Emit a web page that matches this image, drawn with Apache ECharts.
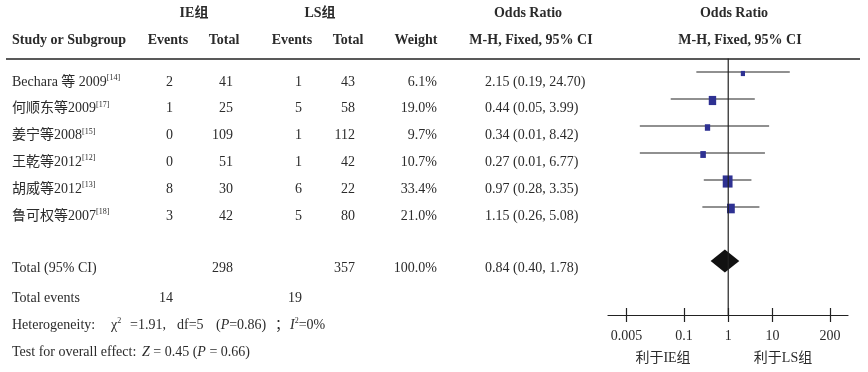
<!DOCTYPE html>
<html><head><meta charset="utf-8">
<script src="https://cdn.jsdelivr.net/npm/echarts@6/dist/echarts.min.js"></script>
<style>html,body{margin:0;padding:0;background:#fff}#c{width:868px;height:372px}</style>
</head><body><div id="c"></div>
<script>
const studies = ['Bechara 等 2009', '何顺东等2009', '姜宁等2008', '王乾等2012', '胡威等2012', '鲁可权等2007'];
const refs = ['14', '17', '15', '12', '13', '18'];
const ieEvents = [2, 1, 0, 0, 8, 3];
const ieTotal = [41, 25, 109, 51, 30, 42];
const lsEvents = [1, 5, 1, 1, 6, 5];
const lsTotal = [43, 58, 112, 42, 22, 80];
const weights = [6.1, 19.0, 9.7, 10.7, 33.4, 21.0];
const orValues = [2.15, 0.44, 0.34, 0.27, 0.97, 1.15];
const ciLow = [0.19, 0.05, 0.01, 0.01, 0.28, 0.26];
const ciHigh = [24.70, 3.99, 8.42, 6.77, 3.35, 5.08];
const pooled = { total1: 298, total2: 357, weight: 100.0, or: 0.84, lo: 0.40, hi: 1.78, events1: 14, events2: 19 };
const axisTicks = [0.005, 0.1, 1, 10, 200];
const tickLabels = ['0.005', '0.1', '1', '10', '200'];

const FF = '"Liberation Serif", "Noto Sans CJK SC", serif';
const COL = '#2b2b2b';
const lg = v => Math.log10(v);

function txt(text, x, y, align, opt) {
  opt = opt || {};
  return {
    type: 'text', silent: true,
    style: Object.assign({
      text: text, x: x, y: y, align: align || 'left', verticalAlign: 'middle',
      fontFamily: FF, fontSize: 14, fill: COL, lineHeight: 16,
      rich: {
        sup: { fontFamily: FF, fontSize: 8, lineHeight: 8, verticalAlign: 'top', fill: COL },
        it: { fontFamily: FF, fontSize: 14, fontStyle: 'italic', fill: COL }
      }
    }, opt)
  };
}
const B = { fontWeight: 'bold' };

const g = [];
g.push(txt('IE组', 194, 13, 'center', B));
g.push(txt('LS组', 320, 13, 'center', B));
g.push(txt('Odds Ratio', 528, 13, 'center', B));
g.push(txt('Odds Ratio', 734, 13, 'center', B));
g.push(txt('Study or Subgroup', 12, 40, 'left', B));
g.push(txt('Events', 168, 40, 'center', B));
g.push(txt('Total', 224, 40, 'center', B));
g.push(txt('Events', 292, 40, 'center', B));
g.push(txt('Total', 348, 40, 'center', B));
g.push(txt('Weight', 416, 40, 'center', B));
g.push(txt('M-H, Fixed, 95% CI', 531, 40, 'center', B));
g.push(txt('M-H, Fixed, 95% CI', 740, 40, 'center', B));
g.push({ type: 'line', silent: true, shape: { x1: 6, y1: 59, x2: 860, y2: 59 }, style: { stroke: '#222', lineWidth: 1.5 } });

const f2 = v => v.toFixed(2);
studies.forEach((s, i) => {
  const y = 82 + i * 26.8;
  g.push(txt(s + '{sup|[' + refs[i] + ']}', 12, y, 'left'));
  g.push(txt(String(ieEvents[i]), 173, y, 'right'));
  g.push(txt(String(ieTotal[i]), 233, y, 'right'));
  g.push(txt(String(lsEvents[i]), 302, y, 'right'));
  g.push(txt(String(lsTotal[i]), 355, y, 'right'));
  g.push(txt(weights[i].toFixed(1) + '%', 437, y, 'right'));
  g.push(txt(f2(orValues[i]) + ' (' + f2(ciLow[i]) + ', ' + f2(ciHigh[i]) + ')', 485, y, 'left'));
});
g.push(txt('Total (95% CI)', 12, 268, 'left'));
g.push(txt(String(pooled.total1), 233, 268, 'right'));
g.push(txt(String(pooled.total2), 355, 268, 'right'));
g.push(txt(pooled.weight.toFixed(1) + '%', 437, 268, 'right'));
g.push(txt(f2(pooled.or) + ' (' + f2(pooled.lo) + ', ' + f2(pooled.hi) + ')', 485, 268, 'left'));
g.push(txt('Total events', 12, 298, 'left'));
g.push(txt(String(pooled.events1), 173, 298, 'right'));
g.push(txt(String(pooled.events2), 302, 298, 'right'));
g.push(txt('Heterogeneity:', 12, 325, 'left'));
g.push(txt('χ{sup|2}', 111, 325, 'left'));
g.push(txt('=1.91,', 130, 325, 'left'));
g.push(txt('df=5', 177, 325, 'left'));
g.push(txt('({it|P}=0.86)', 216, 325, 'left'));
g.push(txt('；', 275, 325, 'left'));
g.push(txt('{it|I}{sup|2}=0%', 290, 325, 'left'));
g.push(txt('Test for overall effect:', 12, 352, 'left'));
g.push(txt('{it|Z} = 0.45 ({it|P} = 0.66)', 142, 352, 'left'));
g.push(txt('利于IE组', 663, 358, 'center'));
g.push(txt('利于LS组', 783, 358, 'center'));

const gridBox = { left: 608, right: 20, top: 58.5, bottom: 57 };
const xBase = { type: 'value', min: -2.72, max: 2.71, splitLine: { show: false }, position: 'bottom' };
const tickVals = axisTicks.map(lg);
const chart = echarts.init(document.getElementById('c'), null, { renderer: 'canvas' });
chart.setOption({
  animation: false,
  backgroundColor: '#fff',
  grid: [Object.assign({}, gridBox), Object.assign({}, gridBox)],
  xAxis: [
    Object.assign({}, xBase, {
      gridIndex: 0,
      axisLine: { show: true, onZero: false, lineStyle: { color: '#222', width: 1.2 } },
      axisTick: { show: true, inside: false, length: 7, customValues: tickVals, lineStyle: { color: '#222', width: 1.2 } },
      axisLabel: {
        show: true, margin: 14, customValues: tickVals, fontFamily: FF, fontSize: 14, color: COL,
        formatter: v => { let k = 0, d = 1e9; tickVals.forEach((t, j) => { if (Math.abs(t - v) < d) { d = Math.abs(t - v); k = j; } }); return tickLabels[k]; }
      }
    }),
    Object.assign({}, xBase, {
      gridIndex: 1,
      axisLine: { show: false, onZero: false },
      axisTick: { show: true, inside: true, length: 7, customValues: tickVals, lineStyle: { color: '#222', width: 1.2 } },
      axisLabel: { show: false }
    })
  ],
  yAxis: [
    { type: 'value', gridIndex: 0, inverse: true, min: -0.5, max: 9, show: false },
    { type: 'value', gridIndex: 1, inverse: true, min: -0.5, max: 9, show: false }
  ],
  graphic: g,
  series: [
    {
      type: 'line', xAxisIndex: 0, yAxisIndex: 0, symbol: 'none', silent: true,
      lineStyle: { color: '#222', width: 1.2 },
      data: [[0, -0.5], [0, 9]]
    },
    {
      type: 'custom', xAxisIndex: 0, yAxisIndex: 0, silent: true,
      data: studies.map((s, i) => [lg(ciLow[i]), lg(ciHigh[i]), i]),
      renderItem: (params, api) => {
        const a = api.coord([api.value(0), api.value(2)]);
        const b = api.coord([api.value(1), api.value(2)]);
        return { type: 'line', shape: { x1: a[0], y1: a[1], x2: b[0], y2: b[1] }, style: { stroke: '#222', lineWidth: 1.2 } };
      }
    },
    {
      type: 'scatter', xAxisIndex: 0, yAxisIndex: 0, silent: true, symbol: 'rect',
      itemStyle: { color: '#2e3192', opacity: 1 },
      data: studies.map((s, i) => ({ value: [lg(orValues[i]), i], symbolSize: [1.7 * Math.sqrt(weights[i]), 2.1 * Math.sqrt(weights[i])], symbolOffset: [0, 1.5] }))
    },
    {
      type: 'custom', xAxisIndex: 0, yAxisIndex: 0, silent: true,
      data: [[lg(pooled.lo), lg(pooled.or), lg(pooled.hi), 7]],
      renderItem: (params, api) => {
        const l = api.coord([api.value(0), api.value(3)]);
        const m = api.coord([api.value(1), api.value(3)]);
        const r = api.coord([api.value(2), api.value(3)]);
        const h = 11.5;
        return { type: 'polygon', shape: { points: [[l[0], l[1]], [m[0], m[1] - h], [r[0], r[1]], [m[0], m[1] + h]] }, style: { fill: '#111' } };
      }
    }
  ]
});
</script>
</body></html>
